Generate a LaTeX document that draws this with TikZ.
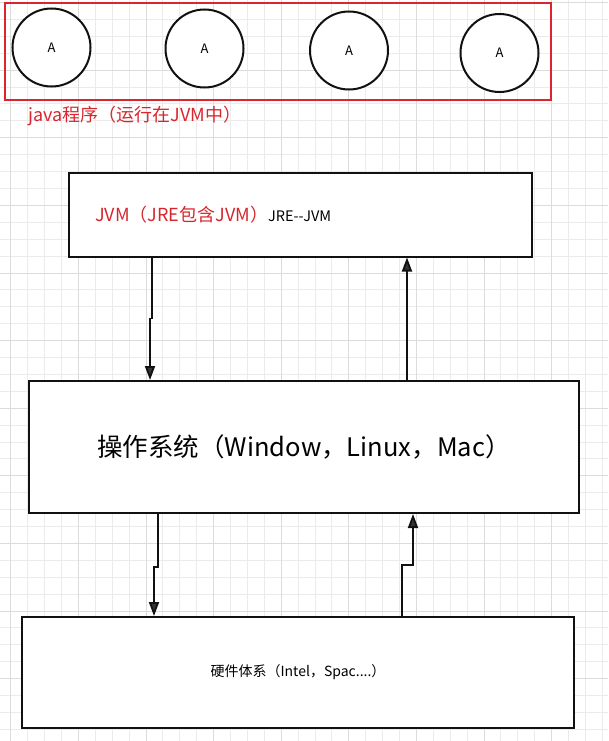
\documentclass[tikz,border=0pt]{standalone}
\usepackage{fontspec}
\setmainfont{Noto Sans CJK SC}
\usetikzlibrary{arrows.meta,calc}
\definecolor{dioRed}{HTML}{D9262E}
\definecolor{dioInk}{HTML}{111111}
\definecolor{dioHead}{HTML}{333333}
\definecolor{gridMinor}{HTML}{EBEBEB}
\definecolor{gridMajor}{HTML}{DCDCDC}

\begin{document}
\begin{tikzpicture}[x=1pt,y=-1pt,
  box/.style={draw=dioInk, fill=white, line width=2pt, inner sep=0pt},
  proc/.style={draw=dioInk, fill=white, circle, line width=2pt, minimum size=78pt, inner sep=0pt, font=\fontsize{13}{13}\selectfont},
  flow/.style={draw=dioInk, line width=1.8pt, -{Triangle[length=14pt,width=10pt,fill=dioHead]}},
]
\useasboundingbox (0,0) rectangle (608,741);
\fill[white] (0,0) rectangle (608,741);
% ---- grid ----
\foreach \i in {0,...,36}{\draw[gridMinor, line width=0.8pt] ({-6.2+16.9*\i},0) -- ({-6.2+16.9*\i},741);}
\foreach \j in {0,...,43}{\draw[gridMinor, line width=0.8pt] (0,{2.5+16.9*\j}) -- (608,{2.5+16.9*\j});}
\foreach \i in {0,...,8}{\draw[gridMajor, line width=0.8pt] ({10.7+67.6*\i},0) -- ({10.7+67.6*\i},741);}
\foreach \j in {0,...,10}{\draw[gridMajor, line width=0.8pt] (0,{2.5+67.6*\j}) -- (608,{2.5+67.6*\j});}
% ---- java programs ----
\node[draw=dioRed, line width=2pt, minimum width=546pt, minimum height=97pt] (prog) at (278,51.5) {};
\node[proc] (a1) at (51.5,47.5) {A};
\node[proc] (a2) at (204.5,48.5) {A};
\node[proc] (a3) at (349,50.5) {A};
\node[proc] (a4) at (499.5,53) {A};
\node[anchor=west, text=dioRed, font=\fontsize{18}{18}\selectfont] (proglbl) at ($(prog.south west)+(21,15)$) {java程序（运行在JVM中）};
% ---- layers ----
\node[box, minimum width=463pt, minimum height=84pt] (jvm) at (300.5,214.5) {};
\node[anchor=west, inner sep=0pt] (jvmlbl) at ($(jvm.west)+(27,0)$) {{\color{dioRed}\fontsize{18}{18}\selectfont JVM（JRE包含JVM）}{\fontsize{14.5}{14.5}\selectfont JRE{-}{-}JVM}};
\node[box, minimum width=550pt, minimum height=132pt, font=\fontsize{25.5}{25.5}\selectfont] (os) at (304,447) {操作系统（Window，Linux，Mac）};
\node[box, minimum width=552pt, minimum height=111pt, font=\fontsize{14}{14}\selectfont] (hw) at (298,672.5) {硬件体系（Intel，Spac....）};
% ---- connectors ----
\draw[flow] ($(jvm.south west)+(84,0)$) -- ++(0,61) -- ++(-2,0) -- ($(os.north west)+(122,0)$);
\draw[flow] ($(os.north west)+(379,0)$) -- ($(jvm.south west)+(339,0)$);
\draw[flow] ($(os.south west)+(130,0)$) -- ++(0,53) -- ++(-4,0) -- ($(hw.north west)+(133,0)$);
\draw[flow] ($(hw.north west)+(381,0)$) -- ++(0,-51) -- ++(11,0) -- ($(os.south west)+(385,0)$);
\end{tikzpicture}
\end{document}
